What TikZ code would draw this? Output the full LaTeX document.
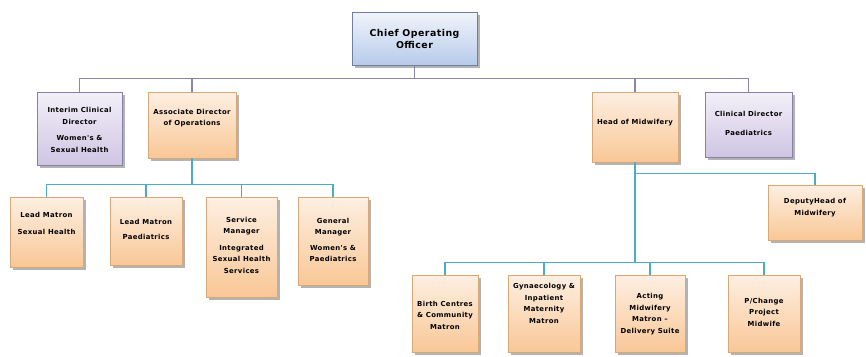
\documentclass[tikz,border=0pt]{standalone}
\usepackage{fontspec}
\setmainfont{DejaVu Sans}
\newfontfamily\boxfont[LetterSpace=5]{DejaVu Sans}
\usetikzlibrary{shadows}
\definecolor{orTop}{HTML}{FDEFE2}
\definecolor{orBot}{HTML}{F9C796}
\definecolor{orEdge}{HTML}{D9A877}
\definecolor{puTop}{HTML}{F3F0F8}
\definecolor{puBot}{HTML}{CFC5E3}
\definecolor{puEdge}{HTML}{8A7FA6}
\definecolor{blTop}{HTML}{F0F4FB}
\definecolor{blBot}{HTML}{B7CBEA}
\definecolor{blEdge}{HTML}{6F7F9F}
\definecolor{topLine}{HTML}{8C84AA}
\definecolor{tealLine}{HTML}{4BACC6}
\tikzset{
  box/.style={rectangle, inner sep=0pt, line width=0.6pt,
    drop shadow={shadow xshift=2.5pt, shadow yshift=-2.5pt, fill=black!50, opacity=0.6}},
  orbox/.style={box, draw=orEdge, top color=orTop, bottom color=orBot},
  pubox/.style={box, draw=puEdge, top color=puTop, bottom color=puBot},
  blbox/.style={box, draw=blEdge, line width=1pt, top color=blTop, bottom color=blBot},
  txt/.style={align=center, inner sep=0pt, text=black,
    font=\boxfont\bfseries\fontsize{6.9}{11.5}\selectfont},
  bigtxt/.style={align=center, inner sep=0pt, text=black,
    font=\boxfont\bfseries\fontsize{9.4}{12.5}\selectfont},
  topconn/.style={draw=topLine, line width=1.6pt},
  tealconn/.style={draw=tealLine, line width=1.4pt},
}
\begin{document}
\begin{tikzpicture}[x=1pt,y=-1pt]
\useasboundingbox (0,0) rectangle (866,356);
% boxes
\node[blbox, minimum width=125pt, minimum height=53pt] (coo) at (414.5,38.5) {};
\node[bigtxt] (coot) at (414.5,39) {Chief Operating\\Officer};

\node[pubox, minimum width=85pt, minimum height=73pt] (int) at (79.5,128.5) {};
\node[txt] (intt) at (79.5,130) {Interim Clinical\\Director\\[5pt]Women's \&\\Sexual Health};

\node[orbox, minimum width=88pt, minimum height=66pt] (aso) at (192,125) {};
\node[txt] (asot) at (192,118) {Associate Director\\of Operations};

\node[orbox, minimum width=86pt, minimum height=70pt] (hom) at (635,127) {};
\node[txt] (homt) at (635,123) {Head of Midwifery};

\node[pubox, minimum width=87pt, minimum height=65pt] (cdp) at (748.5,124.5) {};
\node[txt] (cdpt) at (748.5,123.5) {Clinical Director\\[7pt]Paediatrics};

\node[orbox, minimum width=73pt, minimum height=70pt] (lm1) at (46.5,232) {};
\node[txt] (lm1t) at (46.5,223.5) {Lead Matron\\[5pt]Sexual Health};

\node[orbox, minimum width=72pt, minimum height=68pt] (lm2) at (146,231) {};
\node[txt] (lm2t) at (146,229.5) {Lead Matron\\[4pt]Paediatrics};

\node[orbox, minimum width=71pt, minimum height=100pt] (sm) at (241.5,247) {};
\node[txt] (smt) at (241.5,245) {Service\\Manager\\[5pt]Integrated\\Sexual Health\\Services};

\node[orbox, minimum width=70pt, minimum height=88pt] (gm) at (333,241) {};
\node[txt] (gmt) at (333,240) {General\\Manager\\[4pt]Women's \&\\Paediatrics};

\node[orbox, minimum width=94pt, minimum height=55pt] (dep) at (815,212.5) {};
\node[txt] (dept) at (815,207.5) {DeputyHead of\\Midwifery};

\node[orbox, minimum width=66pt, minimum height=77pt] (bc) at (445,313.5) {};
\node[txt] (bct) at (445,315) {Birth Centres\\\& Community\\Matron};

\node[orbox, minimum width=72pt, minimum height=77pt] (gy) at (544,313.5) {};
\node[txt] (gyt) at (544,303.5) {Gynaecology \&\\Inpatient\\Maternity\\Matron};

\node[orbox, minimum width=70pt, minimum height=77pt] (ac) at (650,313.5) {};
\node[txt] (act) at (650,314) {Acting\\Midwifery\\Matron –\\Delivery Suite};

\node[orbox, minimum width=72pt, minimum height=77pt] (pc) at (764,313.5) {};
\node[txt] (pct) at (764,312) {P/Change\\Project\\Midwife};

% top-level connectors
\draw[topconn] (coo.south) -- ++(0,13) -| (int.north);
\draw[topconn] (coo.south) -- ++(0,13) -| (aso.north);
\draw[topconn] (coo.south) -- ++(0,13) -| (hom.north);
\draw[topconn] (coo.south) -- ++(0,13) -| (cdp.north);
% associate director group
\draw[tealconn] (aso.south) -- ++(0,26) -| (lm1.north);
\draw[tealconn] (aso.south) -- ++(0,26) -| (lm2.north);
\draw[tealconn] (aso.south) -- ++(0,26) -| (sm.north);
\draw[tealconn] (aso.south) -- ++(0,26) -| (gm.north);
% head of midwifery group
\draw[tealconn] (hom.south) -- ++(0,11) -| (dep.north);
\draw[tealconn] (hom.south) -- ++(0,100) -| (bc.north);
\draw[tealconn] (hom.south) -- ++(0,100) -| (gy.north);
\draw[tealconn] (hom.south) -- ++(0,100) -| (ac.north);
\draw[tealconn] (hom.south) -- ++(0,100) -| (pc.north);
\end{tikzpicture}
\end{document}
